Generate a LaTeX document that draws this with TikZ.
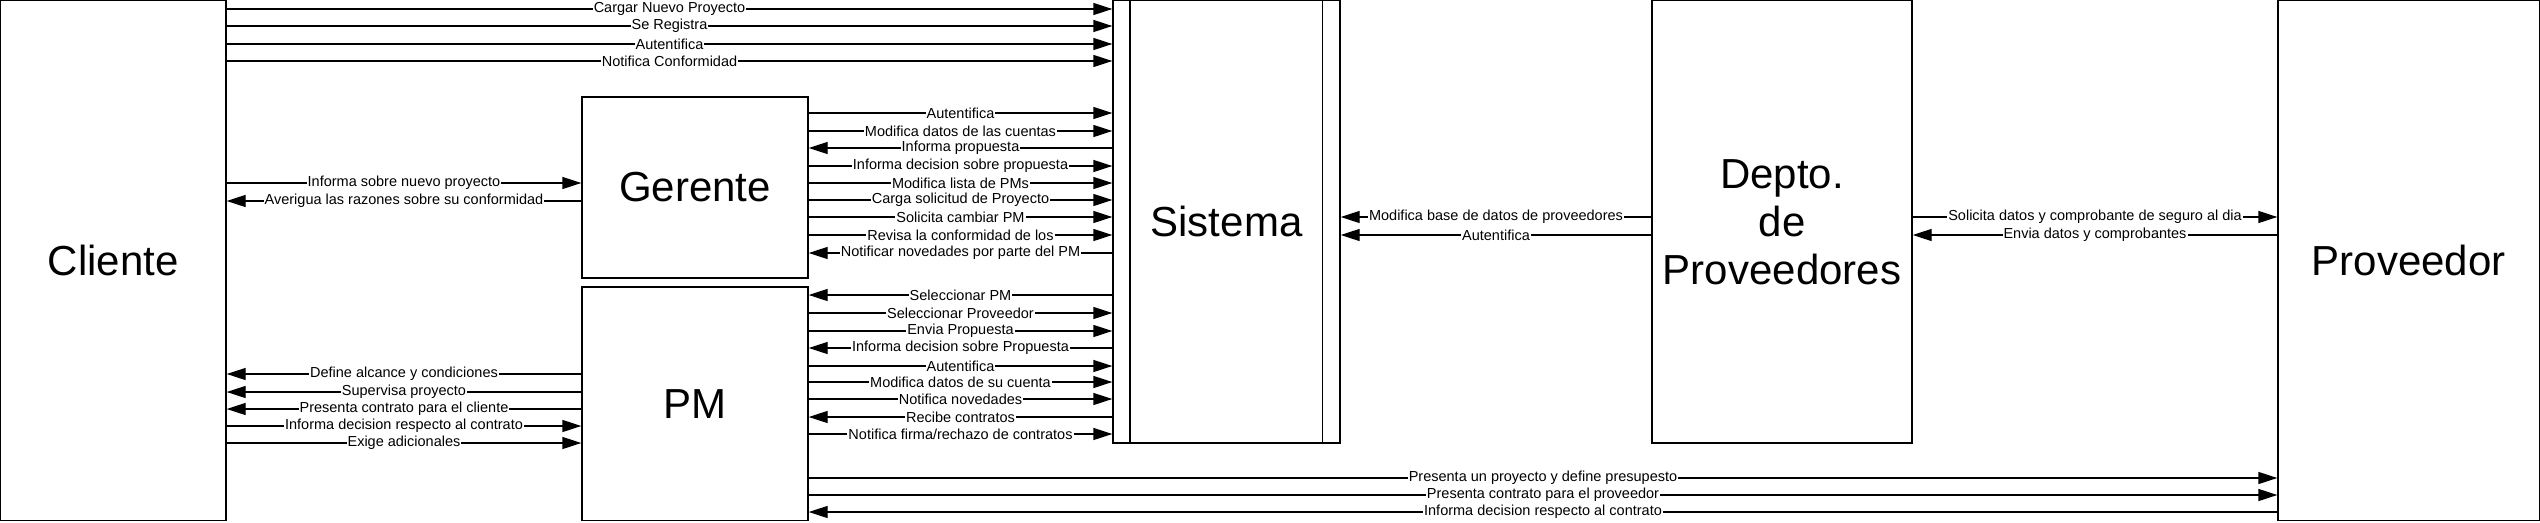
\documentclass[tikz,border=0pt]{standalone}
\usepackage{fontspec}
\setmainfont{Liberation Sans}
\usetikzlibrary{arrows.meta}
\begin{document}
\begin{tikzpicture}[x=1pt,y=-1pt]
  \useasboundingbox (0,0) rectangle (2540,522);
  \begin{scope}[every node/.style={draw=black, line width=1.3pt, rectangle, inner sep=0pt, align=center, font=\fontsize{42}{48}\selectfont}]
    \node[minimum width=225.3pt, minimum height=520.1pt] (cli) at (113.35,260.75) {Cliente};
    \node[minimum width=226pt, minimum height=181pt] (ger) at (695,187.5) {Gerente};
    \node[minimum width=226pt, minimum height=233.8pt] (pm) at (695,403.9) {PM};
    \node[minimum width=227pt, minimum height=442.3pt] (sis) at (1226.5,221.85) {Sistema};
    \node[minimum width=260pt, minimum height=442.3pt] (dep) at (1782,221.85) {Depto.\\de\\Proveedores};
    \node[minimum width=261.3pt, minimum height=520.1pt] (prov) at (2408.65,260.75) {Proveedor};
  \end{scope}
  \draw[line width=1.3pt] ([xshift=17.5pt]sis.north west) -- ([xshift=17.5pt]sis.south west);
  \draw[line width=1.3pt] ([xshift=-18.5pt]sis.north east) -- ([xshift=-18.5pt]sis.south east);
  \begin{scope}[every edge/.style={draw=black, line width=1.3pt, -{Triangle[length=19pt,width=12pt]}},
                every node/.style={fill=white, inner sep=1pt, font=\fontsize{14.5}{15}\selectfont}]
    % Cliente - Sistema
    \path (cli.east|-0,9) edge node {Cargar Nuevo Proyecto} (sis.west|-0,9);
    \path (cli.east|-0,26) edge node {Se Registra} (sis.west|-0,26);
    \path (cli.east|-0,44) edge node {Autentifica} (sis.west|-0,44);
    \path (cli.east|-0,61) edge node {Notifica Conformidad} (sis.west|-0,61);
    % Cliente - Gerente
    \path (cli.east|-0,183) edge node {Informa sobre nuevo proyecto} (ger.west|-0,183);
    \path (ger.west|-0,201) edge node {Averigua las razones sobre su conformidad} (cli.east|-0,201);
    % Gerente - Sistema
    \path (ger.east|-0,113) edge node {Autentifica} (sis.west|-0,113);
    \path (ger.east|-0,131) edge node {Modifica datos de las cuentas} (sis.west|-0,131);
    \path (sis.west|-0,148) edge node {Informa propuesta} (ger.east|-0,148);
    \path (ger.east|-0,166) edge node {Informa decision sobre propuesta} (sis.west|-0,166);
    \path (ger.east|-0,183) edge node {Modifica lista de PMs} (sis.west|-0,183);
    \path (ger.east|-0,200) edge node {Carga solicitud de Proyecto} (sis.west|-0,200);
    \path (ger.east|-0,217) edge node {Solicita cambiar PM} (sis.west|-0,217);
    \path (ger.east|-0,235) edge node {Revisa la conformidad de los\ } (sis.west|-0,235);
    \path (sis.west|-0,253) edge node {Notificar novedades por parte del PM} (ger.east|-0,253);
    % PM - Sistema
    \path (sis.west|-0,295) edge node {Seleccionar PM\ } (pm.east|-0,295);
    \path (pm.east|-0,313) edge node {Seleccionar Proveedor} (sis.west|-0,313);
    \path (pm.east|-0,331) edge node {Envia Propuesta} (sis.west|-0,331);
    \path (sis.west|-0,348) edge node {Informa decision sobre Propuesta} (pm.east|-0,348);
    \path (pm.east|-0,366) edge node {Autentifica} (sis.west|-0,366);
    \path (pm.east|-0,382) edge node {Modifica datos de su cuenta} (sis.west|-0,382);
    \path (pm.east|-0,399) edge node {Notifica novedades} (sis.west|-0,399);
    \path (sis.west|-0,417) edge node {Recibe contratos} (pm.east|-0,417);
    \path (pm.east|-0,434) edge node {Notifica firma/rechazo de contratos} (sis.west|-0,434);
    % PM - Cliente
    \path (pm.west|-0,374) edge node {Define alcance y condiciones} (cli.east|-0,374);
    \path (pm.west|-0,392) edge node {Supervisa proyecto} (cli.east|-0,392);
    \path (pm.west|-0,409) edge node {Presenta contrato para el cliente} (cli.east|-0,409);
    \path (cli.east|-0,426) edge node {Informa decision respecto al contrato} (pm.west|-0,426);
    \path (cli.east|-0,443) edge node {Exige adicionales} (pm.west|-0,443);
    % PM - Proveedor
    \path (pm.east|-0,478) edge node {Presenta un proyecto y define presupesto} (prov.west|-0,478);
    \path (pm.east|-0,495) edge node {Presenta contrato para el proveedor} (prov.west|-0,495);
    \path (prov.west|-0,512) edge node {Informa decision respecto al contrato} (pm.east|-0,512);
    % Depto - Sistema
    \path (dep.west|-0,217) edge node {Modifica base de datos de proveedores} (sis.east|-0,217);
    \path (dep.west|-0,235) edge node {Autentifica} (sis.east|-0,235);
    % Depto - Proveedor
    \path (dep.east|-0,217) edge node {Solicita datos y comprobante de seguro al dia} (prov.west|-0,217);
    \path (prov.west|-0,235) edge node {Envia datos y comprobantes} (dep.east|-0,235);
  \end{scope}
\end{tikzpicture}
\end{document}
